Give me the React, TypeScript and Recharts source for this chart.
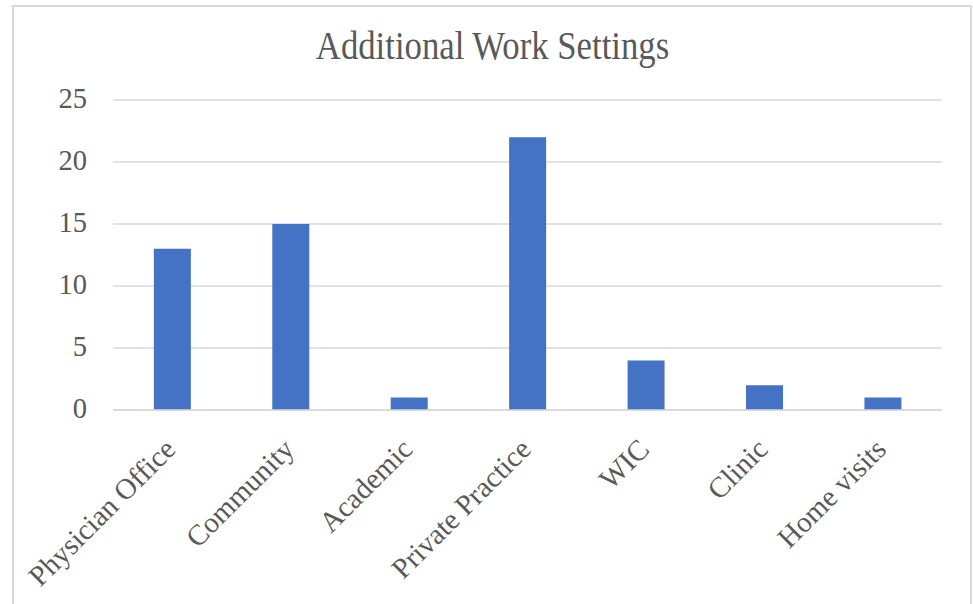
import React from "react";
import { BarChart, Bar, XAxis, YAxis, CartesianGrid } from "recharts";

const categories = [
  "Physician Office",
  "Community",
  "Academic",
  "Private Practice",
  "WIC",
  "Clinic",
  "Home visits",
];
const counts = [13, 15, 1, 22, 4, 2, 1];
const yTicks = [0, 5, 10, 15, 20, 25];
const title = "Additional Work Settings";

const data = categories.map((name, i) => ({ name, value: counts[i] }));

const FONT = "'Liberation Serif', 'Times New Roman', serif";
const TEXT = "#595959";

const XTick = (props: any) => {
  const { x, y, payload } = props;
  const ax = x + 5;
  const ay = y + 41;
  return (
    <text
      x={ax}
      y={ay}
      textAnchor="end"
      fill={TEXT}
      fontFamily={FONT}
      fontSize={29}
      transform={`rotate(-45, ${ax}, ${ay})`}
    >
      {payload.value}
    </text>
  );
};

const YTick = (props: any) => {
  const { x, y, payload } = props;
  return (
    <text
      x={x}
      y={y - 2}
      dy="0.355em"
      textAnchor="end"
      fill={TEXT}
      fontFamily={FONT}
      fontSize={28.5}
    >
      {payload.value}
    </text>
  );
};

export default function App() {
  return (
    <div
      style={{
        position: "absolute",
        left: 12,
        top: 5,
        width: 956,
        height: 620,
        border: "2px solid #d9d9d9",
        background: "#fff",
      }}
    >
      <div
        style={{
          position: "absolute",
          left: 0,
          top: 19,
          width: 956,
          textAlign: "center",
          fontFamily: FONT,
          fontSize: 39,
          lineHeight: 1,
          color: TEXT,
          whiteSpace: "nowrap",
        }}
      >
        <span style={{ display: "inline-block", transform: "scaleX(0.89)" }}>{title}</span>
      </div>
      <div style={{ position: "absolute", left: 0, top: 0 }}>
        <BarChart
          width={956}
          height={597}
          data={data}
          margin={{ top: 93, right: 28, left: 0, bottom: 0 }}
          barCategoryGap="34.5%"
        >
          <CartesianGrid vertical={false} stroke="#d9d9d9" strokeWidth={1.5} />
          <XAxis
            dataKey="name"
            height={194}
            interval={0}
            tickLine={false}
            tickSize={0}
            tickMargin={0}
            axisLine={{ stroke: "#d9d9d9", strokeWidth: 1.5 }}
            tick={<XTick />}
          />
          <YAxis
            width={99}
            domain={[0, 25]}
            ticks={yTicks}
            axisLine={false}
            tickLine={false}
            tickSize={0}
            tickMargin={26}
            tick={<YTick />}
          />
          <Bar dataKey="value" fill="#4472C4" isAnimationActive={false} />
        </BarChart>
      </div>
    </div>
  );
}
